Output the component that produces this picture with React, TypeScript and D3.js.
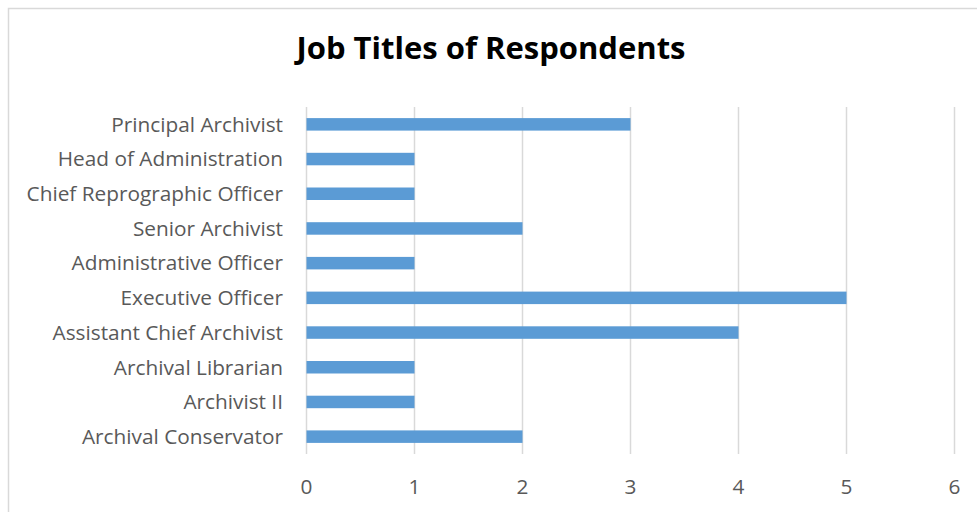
import React from "react";
import * as d3 from "d3";

const categories = [
  "Principal Archivist",
  "Head of Administration",
  "Chief Reprographic Officer",
  "Senior Archivist",
  "Administrative Officer",
  "Executive Officer",
  "Assistant Chief Archivist",
  "Archival Librarian ",
  "Archivist II",
  "Archival Conservator",
];
const values = [3, 1, 1, 2, 1, 5, 4, 1, 1, 2];
const xTicks = [0, 1, 2, 3, 4, 5, 6];
const title = "Job Titles of Respondents";

const W = 977;
const H = 512;
const left = 306.5;
const right = 954.5;
const top = 107;
const bottom = 454;
const FONT = "'Open Sans', sans-serif";

export default function App() {
  const x = d3.scaleLinear().domain([0, 6]).range([left, right]);
  const y = d3.scaleBand().domain(categories).range([top, bottom]).paddingInner(0.64).paddingOuter(0.32);
  return (
    <svg
      width={W}
      height={H}
      style={{ position: "absolute", left: 0, top: 0, background: "#fff" }}
    >
      <rect x={8.5} y={8.5} width={W + 10} height={H + 10} fill="#fff" stroke="#d9d9d9" strokeWidth={1.5} />
      <text x={491} y={59} textAnchor="middle" fontFamily={FONT} fontWeight="bold" fontSize={31} fill="#000">
        {title}
      </text>
      {xTicks.map((t) => (
        <line key={"g" + t} x1={x(t)} x2={x(t)} y1={top} y2={bottom} stroke="#d9d9d9" strokeWidth={1.5} />
      ))}
      {categories.map((c, i) => (
        <rect key={"b" + c} x={x(0)} y={y(c)!} width={x(values[i]) - x(0)} height={y.bandwidth()} fill="#5b9bd5" />
      ))}
      {categories.map((c) => (
        <text key={"l" + c} x={283} y={y(c)! + y.bandwidth() / 2} dy="0.35em" textAnchor="end" fontFamily={FONT} fontSize={20.8} fill="#595959">
          {c}
        </text>
      ))}
      {xTicks.map((t) => (
        <text key={"t" + t} x={x(t)} y={487} dy="0.35em" textAnchor="middle" fontFamily={FONT} fontSize={20.8} fill="#595959">
          {t}
        </text>
      ))}
    </svg>
  );
}
